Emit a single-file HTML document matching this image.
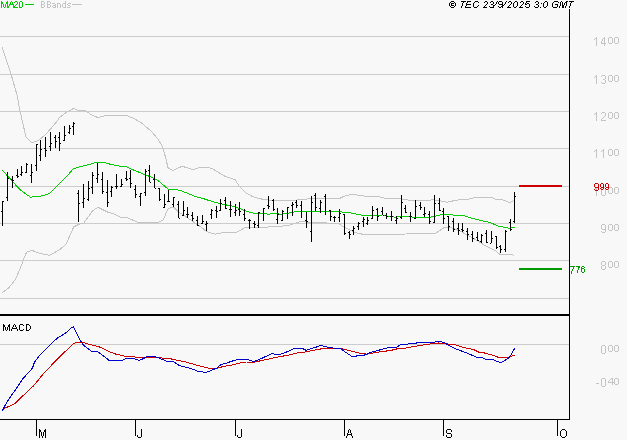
<!DOCTYPE html>
<html><head><meta charset="utf-8"><style>
html,body{margin:0;padding:0;background:#f8f8f8;}
body{width:627px;height:440px;overflow:hidden;}
svg{display:block;will-change:transform;text-rendering:geometricPrecision;}
text{font-family:"Liberation Sans",sans-serif;}
.pb{font-size:13px;fill:#c4c4c4;}
.ps{font-size:10px;fill:#c4c4c4;}
.mo{font-size:13px;fill:#000;}
</style></head><body>
<svg width="627" height="440" viewBox="0 0 627 440">
<rect width="627" height="440" fill="#f8f8f8"/>
<g shape-rendering="crispEdges">
<path d="M0,36.5H569M0,74.5H569M0,111.5H569M0,148.5H569M0,186.5H569M0,223.5H569M0,260.5H569M0,298.5H569M0,344.5H569" stroke="#cccccc" stroke-width="1" fill="none"/>
<polyline points="2.0,47.0 11.0,74.0 17.0,95.0 20.0,111.0 26.0,137.0 32.0,143.0 39.0,140.0 45.0,135.0 51.0,128.5 56.6,121.7 60.0,117.0 67.0,112.0 73.6,108.4 78.0,110.3 84.0,110.0 90.7,114.3 96.4,117.0 100.0,117.0 105.5,115.5 126.0,115.3 134.0,118.5 142.0,123.3 151.0,131.0 158.0,139.0 162.5,147.0 165.6,157.5 168.0,167.8 173.0,170.4 182.0,166.3 188.0,168.0 193.0,169.5 200.6,167.2 208.0,167.5 213.0,169.0 221.0,174.0 226.0,176.8 235.0,179.6 239.0,185.7 246.5,193.4 252.8,196.6 259.0,198.5 265.5,199.8 272.0,200.4 278.0,201.0 284.6,200.7 291.0,200.2 303.8,199.8 310.0,198.4 328.0,198.8 339.0,198.8 344.0,196.2 353.0,194.2 361.0,195.8 371.0,196.5 380.0,197.0 385.0,198.2 392.7,199.0 399.0,198.8 410.5,200.3 423.0,201.0 433.5,199.7 441.0,201.0 447.5,202.2 452.6,201.0 460.6,199.5 469.5,199.0 475.6,197.3 491.8,197.3 495.2,199.0 503.0,200.0 509.7,202.5 514.0,200.6" fill="none" stroke="#c4c4c4" stroke-width="1"/>
<polyline points="2.0,293.0 8.5,288.0 15.4,279.6 20.5,267.7 24.0,258.3 26.5,252.3 31.6,250.3 39.2,253.2 49.5,255.4 59.7,249.7 65.7,244.6 71.7,231.8 73.6,227.0 79.0,224.3 83.8,223.0 92.7,210.7 98.0,207.2 109.0,212.7 113.0,213.4 120.0,217.0 126.8,217.5 139.0,222.9 156.8,222.9 163.0,220.3 168.0,208.8 173.4,207.0 178.5,212.0 184.8,215.8 193.8,222.2 201.4,227.3 206.4,231.6 215.3,234.1 225.5,232.2 235.7,232.9 244.6,227.8 263.8,227.8 272.7,226.2 276.4,227.0 289.0,225.2 302.0,221.1 310.8,222.7 318.5,222.4 331.0,223.3 339.0,224.0 344.0,227.0 352.8,231.6 359.0,233.5 365.5,234.8 370.6,234.8 384.6,234.4 406.3,234.0 411.4,233.2 431.7,233.4 435.0,234.0 439.3,230.8 443.8,227.7 448.3,227.0 453.4,228.3 461.0,231.5 467.4,235.2 476.3,240.0 484.0,245.0 489.0,247.7 495.8,251.0 500.0,254.5 511.0,254.4 514.5,255.4" fill="none" stroke="#c4c4c4" stroke-width="1"/>
<polyline points="2.0,170.0 6.4,174.7 11.5,179.8 16.0,185.5 20.4,190.0 25.5,193.8 30.6,197.2 38.3,196.4 43.4,195.7 49.7,193.2 56.0,186.8 63.8,179.1 68.9,174.0 73.3,168.7 77.8,167.4 81.4,166.5 89.0,164.6 95.4,162.4 103.7,162.4 108.2,163.7 114.5,165.2 119.6,166.2 126.0,166.7 131.1,169.0 137.5,171.6 145.2,174.8 150.3,176.7 157.7,180.2 162.8,184.7 168.5,189.4 175.5,189.4 181.9,191.0 188.3,193.6 195.9,196.8 203.6,198.7 211.2,201.2 218.9,203.2 226.5,205.0 231.4,205.8 237.8,207.8 244.0,210.3 251.8,212.9 258.2,213.5 264.5,213.9 269.6,214.1 274.7,213.2 279.8,214.1 285.0,213.9 291.3,212.6 296.4,211.3 312.8,211.5 325.5,211.5 339.5,211.7 343.4,212.2 351.0,213.0 356.1,214.0 362.5,215.3 382.7,215.0 387.8,216.3 395.4,217.2 401.8,216.3 406.9,216.3 413.3,217.2 429.8,217.2 436.2,216.0 442.6,214.3 447.7,214.3 455.0,215.3 463.2,215.2 469.1,217.6 478.7,220.0 489.5,222.3 497.8,225.9 503.8,227.1 509.8,228.3 514.6,227.1" fill="none" stroke="#00cc00" stroke-width="1"/>
<path d="M2.5,201V226M1,211.5h1M3,201.5h1M7.5,172V201M6,197.5h1M8,178.5h1M12.5,176V188M11,179.5h1M13,180.5h1M17.5,169V178M16,175.5h1M18,176.5h1M21.5,166V176M20,174.5h1M22,172.5h1M26.5,163V173M25,172.5h1M27,164.5h1M31.5,164V183M30,175.5h1M32,172.5h1M36.5,144V171M35,165.5h1M37,144.5h1M40.5,140V161M39,155.5h1M41,149.5h1M45.5,137V157M44,148.5h1M46,150.5h1M50.5,132V151M49,146.5h1M51,143.5h1M55.5,135V148M54,137.5h1M56,141.5h1M59.5,132V151M58,137.5h1M60,143.5h1M64.5,126V141M63,140.5h1M65,135.5h1M69.5,125V134M68,132.5h1M70,128.5h1M73.5,122V135M72,126.5h1M74,123.5h1M78.5,190V222M77,193.5h1M79,203.5h1M83.5,184V208M82,202.5h1M84,198.5h1M88.5,181V201M87,199.5h1M89,188.5h1M92.5,172V194M91,187.5h1M93,175.5h1M97.5,163V183M96,178.5h1M98,174.5h1M102.5,172V194M101,179.5h1M103,191.5h1M107.5,180V207M106,192.5h1M108,202.5h1M111.5,186V197M110,191.5h1M112,187.5h1M116.5,174V189M115,186.5h1M117,186.5h1M121.5,179V187M120,186.5h1M122,184.5h1M126.5,171V181M125,178.5h1M127,179.5h1M130.5,170V188M129,178.5h1M131,183.5h1M135.5,185V198M134,189.5h1M136,194.5h1M140.5,193V206M139,196.5h1M141,193.5h1M145.5,169V196M144,192.5h1M146,171.5h1M149.5,165V182M148,170.5h1M150,182.5h1M154.5,174V188M153,179.5h1M155,188.5h1M159.5,188V201M158,188.5h1M160,199.5h1M164.5,194V208M163,207.5h1M165,204.5h1M168.5,190V202M167,201.5h1M169,201.5h1M173.5,197V207M172,204.5h1M174,197.5h1M178.5,201V218M177,204.5h1M179,218.5h1M183.5,201V216M182,215.5h1M184,210.5h1M187.5,207V218M186,214.5h1M188,214.5h1M192.5,212V221M191,215.5h1M193,218.5h1M197.5,216V226M196,220.5h1M198,225.5h1M202.5,215V224M201,223.5h1M203,221.5h1M206.5,221V231M205,224.5h1M207,223.5h1M211.5,209V219M210,214.5h1M212,210.5h1M216.5,206V218M215,210.5h1M217,211.5h1M220.5,199V211M219,210.5h1M221,203.5h1M225.5,197V209M224,200.5h1M226,208.5h1M230.5,201V217M229,209.5h1M231,209.5h1M235.5,204V216M234,212.5h1M236,210.5h1M239.5,202V216M238,209.5h1M240,211.5h1M244.5,209V221M243,214.5h1M245,218.5h1M249.5,219V229M248,220.5h1M250,220.5h1M254.5,221V228M253,223.5h1M255,224.5h1M258.5,212V228M257,225.5h1M259,212.5h1M263.5,208V221M264,208.5h1M268.5,196V209M267,205.5h1M269,206.5h1M273.5,199V211M272,200.5h1M274,209.5h1M277.5,208V224M276,219.5h1M278,214.5h1M282.5,210V221M281,220.5h1M283,211.5h1M287.5,207V219M288,207.5h1M292.5,202V216M291,205.5h1M293,204.5h1M296.5,200V208M295,202.5h1M297,205.5h1M301.5,201V218M300,205.5h1M306.5,212V228M305,220.5h1M307,221.5h1M311.5,196V242M310,231.5h1M312,202.5h1M315.5,193V211M314,195.5h1M316,207.5h1M320.5,200V213M319,208.5h1M321,202.5h1M325.5,194V215M324,196.5h1M330.5,210V221M329,210.5h1M331,216.5h1M334.5,216V222M333,217.5h1M335,217.5h1M339.5,209V222M338,217.5h1M340,213.5h1M344.5,214V235M343,214.5h1M345,233.5h1M349.5,231V239M348,232.5h1M350,234.5h1M353.5,226V235M352,230.5h1M354,228.5h1M358.5,222V230M357,226.5h1M359,223.5h1M363.5,217V227M362,221.5h1M364,219.5h1M367.5,217V225M366,223.5h1M368,220.5h1M372.5,206V219M371,218.5h1M373,210.5h1M377.5,208V221M376,209.5h1M378,216.5h1M382.5,207V215M381,211.5h1M383,215.5h1M386.5,213V219M385,215.5h1M387,216.5h1M391.5,211V221M390,216.5h1M392,216.5h1M396.5,216V224M395,220.5h1M397,218.5h1M401.5,195V219M400,217.5h1M402,202.5h1M405.5,205V213M404,208.5h1M406,212.5h1M410.5,212V222M409,216.5h1M411,216.5h1M415.5,200V219M414,218.5h1M416,206.5h1M420.5,202V210M419,205.5h1M421,207.5h1M424.5,207V217M423,214.5h1M425,213.5h1M429.5,211V224M428,214.5h1M430,221.5h1M434.5,195V223M433,222.5h1M435,203.5h1M439.5,198V211M438,203.5h1M440,210.5h1M443.5,208V224M442,211.5h1M444,218.5h1M448.5,216V231M447,216.5h1M449,226.5h1M453.5,218V232M452,221.5h1M454,229.5h1M458.5,223V235M457,228.5h1M459,230.5h1M462.5,223V232M461,229.5h1M463,230.5h1M467.5,228V240M466,231.5h1M468,234.5h1M472.5,231V242M471,234.5h1M473,238.5h1M477.5,232V241M476,237.5h1M478,240.5h1M481.5,234V243M480,241.5h1M482,235.5h1M486.5,230V243M485,233.5h1M487,242.5h1M491.5,231V243M490,243.5h1M492,238.5h1M496.5,236V249M495,236.5h1M497,247.5h1M500.5,245V253M499,246.5h1M501,249.5h1M505.5,230V252M504,249.5h1M506,231.5h1M510.5,219V231M509,222.5h1M511,229.5h1M514.5,192V223M513,221.5h1M515,196.5h1" stroke="#000" stroke-width="1" fill="none"/>
<polyline points="2.2,409.4 6.2,407.5 11.2,405.6 15.6,403.1 22.5,396.2 28.8,390.0 33.8,385.6 38.8,379.4 43.8,373.1 50.0,366.9 52.7,363.8 57.8,358.6 63.0,353.5 67.5,349.5 73.2,343.6 77.7,342.4 83.4,342.4 89.0,344.4 94.8,345.6 98.8,346.7 102.7,348.4 110.3,352.2 116.7,354.4 124.3,356.0 133.3,356.9 146.0,357.6 158.8,357.3 162.6,358.2 171.5,359.0 176.4,360.0 186.6,362.2 195.5,364.8 203.2,366.9 210.8,368.6 215.9,368.6 223.6,366.4 231.2,365.2 238.9,363.2 246.5,362.0 255.2,362.0 261.6,360.5 270.5,358.6 278.2,356.9 287.1,355.4 296.0,353.2 306.2,351.8 313.9,350.3 321.5,348.8 323.8,348.0 340.4,348.0 345.5,349.7 351.9,351.3 360.8,353.5 367.2,354.1 373.6,352.9 381.2,351.6 390.2,350.6 396.5,349.0 402.7,348.5 410.3,347.2 419.2,345.6 428.2,344.3 438.4,343.0 446.0,343.8 455.0,344.7 462.6,347.2 468.8,348.6 473.6,349.6 478.4,352.0 484.1,352.9 489.9,354.4 494.7,355.8 498.5,357.4 507.1,357.4 510.9,356.5 514.6,355.3" fill="none" stroke="#cc0000" stroke-width="1"/>
<polyline points="2.2,411.2 5.6,404.4 11.2,395.6 16.2,388.8 21.9,380.0 26.2,375.0 32.5,368.1 34.5,362.0 39.7,355.2 45.9,349.0 52.2,342.7 57.3,338.2 63.0,334.8 67.5,331.4 71.5,327.7 73.4,326.6 76.6,333.0 80.0,339.9 82.8,344.4 86.8,347.8 91.4,351.2 97.0,351.2 102.7,355.4 109.0,360.3 122.4,360.3 125.6,358.6 133.3,358.6 139.0,360.3 143.5,358.6 147.3,356.4 155.0,356.4 160.0,358.6 166.4,361.1 173.2,361.3 178.9,365.4 186.6,367.3 193.0,369.2 198.0,371.4 204.4,372.2 207.0,372.2 212.1,369.9 217.2,368.0 221.0,364.4 226.1,363.2 232.5,361.0 237.6,359.4 246.5,359.4 253.9,361.5 260.3,359.0 266.7,356.0 272.4,353.5 275.6,354.4 279.4,354.4 284.5,352.9 289.6,350.6 294.7,348.4 302.4,348.4 306.2,350.3 311.3,348.4 316.4,347.1 320.3,345.2 323.8,346.2 327.7,347.1 332.8,348.0 340.4,348.4 345.5,352.2 351.3,356.0 355.7,356.4 358.3,355.2 364.0,355.2 371.0,352.2 377.4,350.6 383.8,348.8 390.2,347.4 396.5,347.1 401.4,344.3 412.9,343.8 419.2,342.4 432.0,342.8 438.4,341.2 440.9,341.5 444.7,342.8 448.6,345.3 456.2,349.1 463.9,351.9 469.8,354.2 476.5,357.2 482.2,357.4 486.0,359.6 492.8,359.6 497.5,361.5 500.4,362.5 504.2,361.0 509.0,357.7 511.9,353.4 514.6,348.4" fill="none" stroke="#0000c8" stroke-width="1"/>
<rect x="519" y="185" width="43" height="2" fill="#cc0000"/>
<rect x="519" y="268" width="43" height="2" fill="#009900"/>
<rect x="569" y="9" width="1" height="411" fill="#000"/>
<rect x="0" y="314" width="570" height="2" fill="#000"/>
<rect x="0" y="419" width="570" height="1" fill="#000"/>
<path d="M36.5,419V436M135.5,419V436M235.5,419V436M344.5,419V436M443.5,419V436M557.5,419V436" stroke="#000" stroke-width="1"/>
<rect x="25" y="4" width="9" height="1" fill="#00cc00"/>
<rect x="72" y="4" width="10" height="1" fill="#c4c4c4"/>
</g>
<path fill="#00cc00" shape-rendering="crispEdges" d="M1,1h1v1h-1zM7,1h1v1h-1zM1,2h1v1h-1zM2,2h1v1h-1zM6,2h1v1h-1zM7,2h1v1h-1zM1,3h1v1h-1zM2,3h1v1h-1zM6,3h1v1h-1zM7,3h1v1h-1zM1,4h1v1h-1zM3,4h1v1h-1zM5,4h1v1h-1zM7,4h1v1h-1zM1,5h1v1h-1zM3,5h1v1h-1zM5,5h1v1h-1zM7,5h1v1h-1zM1,6h1v1h-1zM3,6h1v1h-1zM5,6h1v1h-1zM7,6h1v1h-1zM1,7h1v1h-1zM4,7h1v1h-1zM7,7h1v1h-1zM11,1h1v1h-1zM10,2h1v1h-1zM12,2h1v1h-1zM10,3h1v1h-1zM12,3h1v1h-1zM9,4h1v1h-1zM10,4h1v1h-1zM11,4h1v1h-1zM12,4h1v1h-1zM13,4h1v1h-1zM9,5h1v1h-1zM13,5h1v1h-1zM8,6h1v1h-1zM13,6h1v1h-1zM8,7h1v1h-1zM13,7h1v1h-1zM15,1h1v1h-1zM16,1h1v1h-1zM14,2h1v1h-1zM17,2h1v1h-1zM17,3h1v1h-1zM16,4h1v1h-1zM15,5h1v1h-1zM14,6h1v1h-1zM14,7h1v1h-1zM15,7h1v1h-1zM16,7h1v1h-1zM17,7h1v1h-1zM20,1h1v1h-1zM21,1h1v1h-1zM19,2h1v1h-1zM22,2h1v1h-1zM19,3h1v1h-1zM22,3h1v1h-1zM19,4h1v1h-1zM22,4h1v1h-1zM19,5h1v1h-1zM22,5h1v1h-1zM19,6h1v1h-1zM22,6h1v1h-1zM19,7h1v1h-1zM20,7h1v1h-1zM21,7h1v1h-1z"/>
<path fill="#c4c4c4" shape-rendering="crispEdges" d="M41,1h1v1h-1zM42,1h1v1h-1zM43,1h1v1h-1zM41,2h1v1h-1zM44,2h1v1h-1zM41,3h1v1h-1zM44,3h1v1h-1zM41,4h1v1h-1zM42,4h1v1h-1zM43,4h1v1h-1zM41,5h1v1h-1zM44,5h1v1h-1zM41,6h1v1h-1zM44,6h1v1h-1zM41,7h1v1h-1zM42,7h1v1h-1zM43,7h1v1h-1zM47,1h1v1h-1zM48,1h1v1h-1zM49,1h1v1h-1zM47,2h1v1h-1zM50,2h1v1h-1zM47,3h1v1h-1zM50,3h1v1h-1zM47,4h1v1h-1zM48,4h1v1h-1zM49,4h1v1h-1zM47,5h1v1h-1zM50,5h1v1h-1zM47,6h1v1h-1zM50,6h1v1h-1zM47,7h1v1h-1zM48,7h1v1h-1zM49,7h1v1h-1zM52,3h1v1h-1zM53,3h1v1h-1zM54,3h1v1h-1zM55,4h1v1h-1zM53,5h1v1h-1zM54,5h1v1h-1zM55,5h1v1h-1zM52,6h1v1h-1zM55,6h1v1h-1zM53,7h1v1h-1zM54,7h1v1h-1zM55,7h1v1h-1zM57,3h1v1h-1zM58,3h1v1h-1zM59,3h1v1h-1zM57,4h1v1h-1zM60,4h1v1h-1zM57,5h1v1h-1zM60,5h1v1h-1zM57,6h1v1h-1zM60,6h1v1h-1zM57,7h1v1h-1zM60,7h1v1h-1zM65,1h1v1h-1zM65,2h1v1h-1zM63,3h1v1h-1zM64,3h1v1h-1zM65,3h1v1h-1zM62,4h1v1h-1zM65,4h1v1h-1zM62,5h1v1h-1zM65,5h1v1h-1zM62,6h1v1h-1zM65,6h1v1h-1zM63,7h1v1h-1zM64,7h1v1h-1zM65,7h1v1h-1zM68,3h1v1h-1zM69,3h1v1h-1zM70,3h1v1h-1zM67,4h1v1h-1zM68,5h1v1h-1zM69,5h1v1h-1zM70,6h1v1h-1zM67,7h1v1h-1zM68,7h1v1h-1zM69,7h1v1h-1z"/>
<path fill="#000" shape-rendering="crispEdges" d="M451,1h1v1h-1zM452,1h1v1h-1zM453,1h1v1h-1zM450,2h1v1h-1zM454,2h1v1h-1zM449,3h1v1h-1zM451,3h1v1h-1zM452,3h1v1h-1zM453,3h1v1h-1zM455,3h1v1h-1zM449,4h1v1h-1zM451,4h1v1h-1zM455,4h1v1h-1zM449,5h1v1h-1zM451,5h1v1h-1zM452,5h1v1h-1zM453,5h1v1h-1zM455,5h1v1h-1zM450,6h1v1h-1zM454,6h1v1h-1zM451,7h1v1h-1zM452,7h1v1h-1zM453,7h1v1h-1zM461,1h1v1h-1zM462,1h1v1h-1zM463,1h1v1h-1zM464,1h1v1h-1zM465,1h1v1h-1zM463,2h1v1h-1zM462,3h1v1h-1zM462,4h1v1h-1zM462,5h1v1h-1zM461,6h1v1h-1zM461,7h1v1h-1zM467,1h1v1h-1zM468,1h1v1h-1zM469,1h1v1h-1zM470,1h1v1h-1zM467,2h1v1h-1zM466,3h1v1h-1zM466,4h1v1h-1zM467,4h1v1h-1zM468,4h1v1h-1zM469,4h1v1h-1zM470,4h1v1h-1zM466,5h1v1h-1zM465,6h1v1h-1zM465,7h1v1h-1zM466,7h1v1h-1zM467,7h1v1h-1zM468,7h1v1h-1zM469,7h1v1h-1zM470,7h1v1h-1zM475,1h1v1h-1zM476,1h1v1h-1zM477,1h1v1h-1zM474,2h1v1h-1zM478,2h1v1h-1zM473,3h1v1h-1zM473,4h1v1h-1zM473,5h1v1h-1zM478,5h1v1h-1zM473,6h1v1h-1zM477,6h1v1h-1zM474,7h1v1h-1zM475,7h1v1h-1zM476,7h1v1h-1zM485,1h1v1h-1zM486,1h1v1h-1zM484,2h1v1h-1zM487,2h1v1h-1zM487,3h1v1h-1zM486,4h1v1h-1zM485,5h1v1h-1zM484,6h1v1h-1zM483,7h1v1h-1zM484,7h1v1h-1zM485,7h1v1h-1zM486,7h1v1h-1zM491,1h1v1h-1zM492,1h1v1h-1zM490,2h1v1h-1zM493,2h1v1h-1zM493,3h1v1h-1zM491,4h1v1h-1zM492,4h1v1h-1zM493,5h1v1h-1zM489,6h1v1h-1zM493,6h1v1h-1zM490,7h1v1h-1zM491,7h1v1h-1zM492,7h1v1h-1zM497,1h1v1h-1zM496,2h1v1h-1zM496,3h1v1h-1zM495,4h1v1h-1zM494,5h1v1h-1zM493,6h1v1h-1zM493,7h1v1h-1zM499,1h1v1h-1zM500,1h1v1h-1zM501,1h1v1h-1zM498,2h1v1h-1zM502,2h1v1h-1zM498,3h1v1h-1zM502,3h1v1h-1zM499,4h1v1h-1zM500,4h1v1h-1zM501,4h1v1h-1zM502,4h1v1h-1zM502,5h1v1h-1zM498,6h1v1h-1zM501,6h1v1h-1zM499,7h1v1h-1zM500,7h1v1h-1zM506,1h1v1h-1zM505,2h1v1h-1zM505,3h1v1h-1zM504,4h1v1h-1zM503,5h1v1h-1zM502,6h1v1h-1zM502,7h1v1h-1zM509,1h1v1h-1zM510,1h1v1h-1zM508,2h1v1h-1zM511,2h1v1h-1zM511,3h1v1h-1zM510,4h1v1h-1zM509,5h1v1h-1zM508,6h1v1h-1zM507,7h1v1h-1zM508,7h1v1h-1zM509,7h1v1h-1zM510,7h1v1h-1zM515,1h1v1h-1zM516,1h1v1h-1zM514,2h1v1h-1zM517,2h1v1h-1zM513,3h1v1h-1zM517,3h1v1h-1zM513,4h1v1h-1zM517,4h1v1h-1zM513,5h1v1h-1zM517,5h1v1h-1zM513,6h1v1h-1zM516,6h1v1h-1zM514,7h1v1h-1zM515,7h1v1h-1zM521,1h1v1h-1zM522,1h1v1h-1zM520,2h1v1h-1zM523,2h1v1h-1zM523,3h1v1h-1zM522,4h1v1h-1zM521,5h1v1h-1zM520,6h1v1h-1zM519,7h1v1h-1zM520,7h1v1h-1zM521,7h1v1h-1zM522,7h1v1h-1zM526,1h1v1h-1zM527,1h1v1h-1zM528,1h1v1h-1zM529,1h1v1h-1zM526,2h1v1h-1zM525,3h1v1h-1zM527,3h1v1h-1zM528,3h1v1h-1zM525,4h1v1h-1zM526,4h1v1h-1zM529,4h1v1h-1zM529,5h1v1h-1zM525,6h1v1h-1zM529,6h1v1h-1zM526,7h1v1h-1zM527,7h1v1h-1zM528,7h1v1h-1zM536,1h1v1h-1zM537,1h1v1h-1zM535,2h1v1h-1zM538,2h1v1h-1zM538,3h1v1h-1zM536,4h1v1h-1zM537,4h1v1h-1zM538,5h1v1h-1zM534,6h1v1h-1zM538,6h1v1h-1zM535,7h1v1h-1zM536,7h1v1h-1zM537,7h1v1h-1zM541,3h1v1h-1zM540,7h1v1h-1zM545,1h1v1h-1zM546,1h1v1h-1zM544,2h1v1h-1zM547,2h1v1h-1zM543,3h1v1h-1zM547,3h1v1h-1zM543,4h1v1h-1zM547,4h1v1h-1zM543,5h1v1h-1zM547,5h1v1h-1zM543,6h1v1h-1zM546,6h1v1h-1zM544,7h1v1h-1zM545,7h1v1h-1zM554,1h1v1h-1zM555,1h1v1h-1zM556,1h1v1h-1zM557,1h1v1h-1zM553,2h1v1h-1zM558,2h1v1h-1zM552,3h1v1h-1zM552,4h1v1h-1zM555,4h1v1h-1zM556,4h1v1h-1zM557,4h1v1h-1zM552,5h1v1h-1zM557,5h1v1h-1zM552,6h1v1h-1zM557,6h1v1h-1zM553,7h1v1h-1zM554,7h1v1h-1zM555,7h1v1h-1zM556,7h1v1h-1zM561,1h1v1h-1zM566,1h1v1h-1zM567,1h1v1h-1zM560,2h1v1h-1zM562,2h1v1h-1zM565,2h1v1h-1zM566,2h1v1h-1zM560,3h1v1h-1zM562,3h1v1h-1zM564,3h1v1h-1zM566,3h1v1h-1zM560,4h1v1h-1zM562,4h1v1h-1zM564,4h1v1h-1zM566,4h1v1h-1zM560,5h1v1h-1zM562,5h1v1h-1zM563,5h1v1h-1zM566,5h1v1h-1zM559,6h1v1h-1zM562,6h1v1h-1zM563,6h1v1h-1zM565,6h1v1h-1zM559,7h1v1h-1zM562,7h1v1h-1zM563,7h1v1h-1zM565,7h1v1h-1zM569,1h1v1h-1zM570,1h1v1h-1zM571,1h1v1h-1zM572,1h1v1h-1zM573,1h1v1h-1zM571,2h1v1h-1zM570,3h1v1h-1zM570,4h1v1h-1zM570,5h1v1h-1zM569,6h1v1h-1zM569,7h1v1h-1z"/>
<path fill="#c4c4c4" shape-rendering="crispEdges" d="M596,37h1v1h-1zM595,38h2v1h-2zM594,39h1v1h-1zM596,39h1v1h-1zM596,40h1v1h-1zM596,41h1v1h-1zM596,42h1v1h-1zM596,43h1v1h-1zM596,44h1v1h-1zM596,45h1v1h-1zM604,37h1v1h-1zM603,38h2v1h-2zM602,39h1v1h-1zM604,39h1v1h-1zM602,40h1v1h-1zM604,40h1v1h-1zM601,41h1v1h-1zM604,41h1v1h-1zM601,42h1v1h-1zM604,42h1v1h-1zM601,43h5v1h-5zM604,44h1v1h-1zM604,45h1v1h-1zM609,37h3v1h-3zM608,38h1v1h-1zM612,38h1v1h-1zM608,39h1v1h-1zM612,39h1v1h-1zM608,40h1v1h-1zM612,40h1v1h-1zM608,41h1v1h-1zM612,41h1v1h-1zM608,42h1v1h-1zM612,42h1v1h-1zM609,43h3v1h-3zM615,37h3v1h-3zM614,38h1v1h-1zM618,38h1v1h-1zM614,39h1v1h-1zM618,39h1v1h-1zM614,40h1v1h-1zM618,40h1v1h-1zM614,41h1v1h-1zM618,41h1v1h-1zM614,42h1v1h-1zM618,42h1v1h-1zM615,43h3v1h-3zM596,75h1v1h-1zM595,76h2v1h-2zM594,77h1v1h-1zM596,77h1v1h-1zM596,78h1v1h-1zM596,79h1v1h-1zM596,80h1v1h-1zM596,81h1v1h-1zM596,82h1v1h-1zM596,83h1v1h-1zM602,75h3v1h-3zM601,76h1v1h-1zM605,76h1v1h-1zM605,77h1v1h-1zM605,78h1v1h-1zM603,79h2v1h-2zM605,80h1v1h-1zM605,81h1v1h-1zM601,82h1v1h-1zM605,82h1v1h-1zM602,83h3v1h-3zM609,75h3v1h-3zM608,76h1v1h-1zM612,76h1v1h-1zM608,77h1v1h-1zM612,77h1v1h-1zM608,78h1v1h-1zM612,78h1v1h-1zM608,79h1v1h-1zM612,79h1v1h-1zM608,80h1v1h-1zM612,80h1v1h-1zM609,81h3v1h-3zM615,75h3v1h-3zM614,76h1v1h-1zM618,76h1v1h-1zM614,77h1v1h-1zM618,77h1v1h-1zM614,78h1v1h-1zM618,78h1v1h-1zM614,79h1v1h-1zM618,79h1v1h-1zM614,80h1v1h-1zM618,80h1v1h-1zM615,81h3v1h-3zM596,112h1v1h-1zM595,113h2v1h-2zM594,114h1v1h-1zM596,114h1v1h-1zM596,115h1v1h-1zM596,116h1v1h-1zM596,117h1v1h-1zM596,118h1v1h-1zM596,119h1v1h-1zM596,120h1v1h-1zM602,112h3v1h-3zM601,113h1v1h-1zM605,113h1v1h-1zM605,114h1v1h-1zM605,115h1v1h-1zM604,116h1v1h-1zM603,117h1v1h-1zM602,118h1v1h-1zM601,119h1v1h-1zM601,120h5v1h-5zM609,112h3v1h-3zM608,113h1v1h-1zM612,113h1v1h-1zM608,114h1v1h-1zM612,114h1v1h-1zM608,115h1v1h-1zM612,115h1v1h-1zM608,116h1v1h-1zM612,116h1v1h-1zM608,117h1v1h-1zM612,117h1v1h-1zM609,118h3v1h-3zM615,112h3v1h-3zM614,113h1v1h-1zM618,113h1v1h-1zM614,114h1v1h-1zM618,114h1v1h-1zM614,115h1v1h-1zM618,115h1v1h-1zM614,116h1v1h-1zM618,116h1v1h-1zM614,117h1v1h-1zM618,117h1v1h-1zM615,118h3v1h-3zM596,149h1v1h-1zM595,150h2v1h-2zM594,151h1v1h-1zM596,151h1v1h-1zM596,152h1v1h-1zM596,153h1v1h-1zM596,154h1v1h-1zM596,155h1v1h-1zM596,156h1v1h-1zM596,157h1v1h-1zM603,149h1v1h-1zM602,150h2v1h-2zM601,151h1v1h-1zM603,151h1v1h-1zM603,152h1v1h-1zM603,153h1v1h-1zM603,154h1v1h-1zM603,155h1v1h-1zM603,156h1v1h-1zM603,157h1v1h-1zM609,149h3v1h-3zM608,150h1v1h-1zM612,150h1v1h-1zM608,151h1v1h-1zM612,151h1v1h-1zM608,152h1v1h-1zM612,152h1v1h-1zM608,153h1v1h-1zM612,153h1v1h-1zM608,154h1v1h-1zM612,154h1v1h-1zM609,155h3v1h-3zM615,149h3v1h-3zM614,150h1v1h-1zM618,150h1v1h-1zM614,151h1v1h-1zM618,151h1v1h-1zM614,152h1v1h-1zM618,152h1v1h-1zM614,153h1v1h-1zM618,153h1v1h-1zM614,154h1v1h-1zM618,154h1v1h-1zM615,155h3v1h-3zM596,187h1v1h-1zM595,188h2v1h-2zM594,189h1v1h-1zM596,189h1v1h-1zM596,190h1v1h-1zM596,191h1v1h-1zM596,192h1v1h-1zM596,193h1v1h-1zM596,194h1v1h-1zM596,195h1v1h-1zM602,187h3v1h-3zM601,188h1v1h-1zM605,188h1v1h-1zM601,189h1v1h-1zM605,189h1v1h-1zM601,190h1v1h-1zM605,190h1v1h-1zM601,191h1v1h-1zM605,191h1v1h-1zM601,192h1v1h-1zM605,192h1v1h-1zM601,193h1v1h-1zM605,193h1v1h-1zM601,194h1v1h-1zM605,194h1v1h-1zM602,195h3v1h-3zM609,187h3v1h-3zM608,188h1v1h-1zM612,188h1v1h-1zM608,189h1v1h-1zM612,189h1v1h-1zM608,190h1v1h-1zM612,190h1v1h-1zM608,191h1v1h-1zM612,191h1v1h-1zM608,192h1v1h-1zM612,192h1v1h-1zM609,193h3v1h-3zM615,187h3v1h-3zM614,188h1v1h-1zM618,188h1v1h-1zM614,189h1v1h-1zM618,189h1v1h-1zM614,190h1v1h-1zM618,190h1v1h-1zM614,191h1v1h-1zM618,191h1v1h-1zM614,192h1v1h-1zM618,192h1v1h-1zM615,193h3v1h-3zM602,224h3v1h-3zM601,225h1v1h-1zM605,225h1v1h-1zM601,226h1v1h-1zM605,226h1v1h-1zM601,227h1v1h-1zM605,227h1v1h-1zM601,228h1v1h-1zM605,228h1v1h-1zM602,229h4v1h-4zM605,230h1v1h-1zM601,231h1v1h-1zM605,231h1v1h-1zM602,232h3v1h-3zM609,224h3v1h-3zM608,225h1v1h-1zM612,225h1v1h-1zM608,226h1v1h-1zM612,226h1v1h-1zM608,227h1v1h-1zM612,227h1v1h-1zM608,228h1v1h-1zM612,228h1v1h-1zM608,229h1v1h-1zM612,229h1v1h-1zM609,230h3v1h-3zM615,224h3v1h-3zM614,225h1v1h-1zM618,225h1v1h-1zM614,226h1v1h-1zM618,226h1v1h-1zM614,227h1v1h-1zM618,227h1v1h-1zM614,228h1v1h-1zM618,228h1v1h-1zM614,229h1v1h-1zM618,229h1v1h-1zM615,230h3v1h-3zM602,261h3v1h-3zM601,262h1v1h-1zM605,262h1v1h-1zM601,263h1v1h-1zM605,263h1v1h-1zM601,264h1v1h-1zM605,264h1v1h-1zM602,265h3v1h-3zM601,266h1v1h-1zM605,266h1v1h-1zM601,267h1v1h-1zM605,267h1v1h-1zM601,268h1v1h-1zM605,268h1v1h-1zM602,269h3v1h-3zM609,261h3v1h-3zM608,262h1v1h-1zM612,262h1v1h-1zM608,263h1v1h-1zM612,263h1v1h-1zM608,264h1v1h-1zM612,264h1v1h-1zM608,265h1v1h-1zM612,265h1v1h-1zM608,266h1v1h-1zM612,266h1v1h-1zM609,267h3v1h-3zM615,261h3v1h-3zM614,262h1v1h-1zM618,262h1v1h-1zM614,263h1v1h-1zM618,263h1v1h-1zM614,264h1v1h-1zM618,264h1v1h-1zM614,265h1v1h-1zM618,265h1v1h-1zM614,266h1v1h-1zM618,266h1v1h-1zM615,267h3v1h-3zM602,345h3v1h-3zM601,346h1v1h-1zM605,346h1v1h-1zM601,347h1v1h-1zM605,347h1v1h-1zM601,348h1v1h-1zM605,348h1v1h-1zM601,349h1v1h-1zM605,349h1v1h-1zM601,350h1v1h-1zM605,350h1v1h-1zM601,351h1v1h-1zM605,351h1v1h-1zM601,352h1v1h-1zM605,352h1v1h-1zM602,353h3v1h-3zM609,345h3v1h-3zM608,346h1v1h-1zM612,346h1v1h-1zM608,347h1v1h-1zM612,347h1v1h-1zM608,348h1v1h-1zM612,348h1v1h-1zM608,349h1v1h-1zM612,349h1v1h-1zM608,350h1v1h-1zM612,350h1v1h-1zM609,351h3v1h-3zM615,345h3v1h-3zM614,346h1v1h-1zM618,346h1v1h-1zM614,347h1v1h-1zM618,347h1v1h-1zM614,348h1v1h-1zM618,348h1v1h-1zM614,349h1v1h-1zM618,349h1v1h-1zM614,350h1v1h-1zM618,350h1v1h-1zM615,351h3v1h-3zM596,383h3v1h-3zM602,378h3v1h-3zM601,379h1v1h-1zM605,379h1v1h-1zM601,380h1v1h-1zM605,380h1v1h-1zM601,381h1v1h-1zM605,381h1v1h-1zM601,382h1v1h-1zM605,382h1v1h-1zM601,383h1v1h-1zM605,383h1v1h-1zM601,384h1v1h-1zM605,384h1v1h-1zM601,385h1v1h-1zM605,385h1v1h-1zM602,386h3v1h-3zM611,378h2v1h-2zM610,379h1v1h-1zM612,379h1v1h-1zM609,380h1v1h-1zM612,380h1v1h-1zM608,381h1v1h-1zM612,381h1v1h-1zM608,382h6v1h-6zM612,383h1v1h-1zM612,384h1v1h-1zM615,378h3v1h-3zM614,379h1v1h-1zM618,379h1v1h-1zM614,380h1v1h-1zM618,380h1v1h-1zM614,381h1v1h-1zM618,381h1v1h-1zM614,382h1v1h-1zM618,382h1v1h-1zM614,383h1v1h-1zM618,383h1v1h-1zM615,384h3v1h-3z"/>
<path fill="#cc0000" shape-rendering="crispEdges" d="M595,183h1v1h-1zM596,183h1v1h-1zM597,183h1v1h-1zM594,184h1v1h-1zM598,184h1v1h-1zM594,185h1v1h-1zM598,185h1v1h-1zM594,186h1v1h-1zM598,186h1v1h-1zM595,187h1v1h-1zM596,187h1v1h-1zM597,187h1v1h-1zM598,187h1v1h-1zM598,188h1v1h-1zM594,189h1v1h-1zM598,189h1v1h-1zM595,190h1v1h-1zM596,190h1v1h-1zM597,190h1v1h-1zM601,183h1v1h-1zM602,183h1v1h-1zM600,184h1v1h-1zM603,184h1v1h-1zM600,185h1v1h-1zM603,185h1v1h-1zM600,186h1v1h-1zM603,186h1v1h-1zM601,187h1v1h-1zM602,187h1v1h-1zM603,187h1v1h-1zM600,188h1v1h-1zM603,188h1v1h-1zM601,189h1v1h-1zM602,189h1v1h-1zM606,183h1v1h-1zM607,183h1v1h-1zM605,184h1v1h-1zM608,184h1v1h-1zM605,185h1v1h-1zM608,185h1v1h-1zM605,186h1v1h-1zM608,186h1v1h-1zM606,187h1v1h-1zM607,187h1v1h-1zM608,187h1v1h-1zM605,188h1v1h-1zM608,188h1v1h-1zM606,189h1v1h-1zM607,189h1v1h-1z"/>
<path fill="#009900" shape-rendering="crispEdges" d="M570,266h1v1h-1zM571,266h1v1h-1zM572,266h1v1h-1zM573,266h1v1h-1zM574,266h1v1h-1zM573,267h1v1h-1zM573,268h1v1h-1zM572,269h1v1h-1zM572,270h1v1h-1zM571,271h1v1h-1zM571,272h1v1h-1zM571,273h1v1h-1zM576,266h1v1h-1zM577,266h1v1h-1zM578,266h1v1h-1zM579,266h1v1h-1zM578,267h1v1h-1zM579,267h1v1h-1zM578,268h1v1h-1zM578,269h1v1h-1zM577,270h1v1h-1zM577,271h1v1h-1zM577,272h1v1h-1zM582,266h1v1h-1zM583,266h1v1h-1zM581,267h1v1h-1zM584,267h1v1h-1zM581,268h1v1h-1zM582,268h1v1h-1zM583,268h1v1h-1zM581,269h1v1h-1zM584,269h1v1h-1zM581,270h1v1h-1zM584,270h1v1h-1zM581,271h1v1h-1zM584,271h1v1h-1zM582,272h1v1h-1zM583,272h1v1h-1z"/>
<path fill="#000" shape-rendering="crispEdges" d="M39,429h1v1h-1zM45,429h1v1h-1zM39,430h2v1h-2zM44,430h2v1h-2zM39,431h2v1h-2zM44,431h2v1h-2zM39,432h1v1h-1zM41,432h1v1h-1zM43,432h1v1h-1zM45,432h1v1h-1zM39,433h1v1h-1zM41,433h1v1h-1zM43,433h1v1h-1zM45,433h1v1h-1zM39,434h1v1h-1zM41,434h1v1h-1zM43,434h1v1h-1zM45,434h1v1h-1zM39,435h1v1h-1zM41,435h1v1h-1zM43,435h1v1h-1zM45,435h1v1h-1zM39,436h1v1h-1zM42,436h1v1h-1zM45,436h1v1h-1zM39,437h1v1h-1zM42,437h1v1h-1zM45,437h1v1h-1zM141,429h1v1h-1zM141,430h1v1h-1zM141,431h1v1h-1zM141,432h1v1h-1zM141,433h1v1h-1zM141,434h1v1h-1zM137,435h1v1h-1zM141,435h1v1h-1zM137,436h1v1h-1zM141,436h1v1h-1zM138,437h3v1h-3zM241,429h1v1h-1zM241,430h1v1h-1zM241,431h1v1h-1zM241,432h1v1h-1zM241,433h1v1h-1zM241,434h1v1h-1zM237,435h1v1h-1zM241,435h1v1h-1zM237,436h1v1h-1zM241,436h1v1h-1zM238,437h3v1h-3zM349,429h1v1h-1zM348,430h1v1h-1zM350,430h1v1h-1zM348,431h1v1h-1zM350,431h1v1h-1zM348,432h1v1h-1zM350,432h1v1h-1zM347,433h1v1h-1zM351,433h1v1h-1zM347,434h5v1h-5zM347,435h1v1h-1zM351,435h1v1h-1zM346,436h1v1h-1zM352,436h1v1h-1zM346,437h1v1h-1zM352,437h1v1h-1zM447,429h4v1h-4zM446,430h1v1h-1zM451,430h1v1h-1zM446,431h1v1h-1zM451,431h1v1h-1zM446,432h1v1h-1zM447,433h4v1h-4zM451,434h1v1h-1zM446,435h1v1h-1zM451,435h1v1h-1zM446,436h1v1h-1zM451,436h1v1h-1zM447,437h4v1h-4zM562,429h3v1h-3zM561,430h1v1h-1zM565,430h1v1h-1zM560,431h1v1h-1zM566,431h1v1h-1zM560,432h1v1h-1zM566,432h1v1h-1zM560,433h1v1h-1zM566,433h1v1h-1zM560,434h1v1h-1zM566,434h1v1h-1zM560,435h1v1h-1zM566,435h1v1h-1zM561,436h1v1h-1zM565,436h1v1h-1zM562,437h3v1h-3zM3,324h1v1h-1zM9,324h1v1h-1zM3,325h2v1h-2zM8,325h2v1h-2zM3,326h2v1h-2zM8,326h2v1h-2zM3,327h1v1h-1zM5,327h1v1h-1zM7,327h1v1h-1zM9,327h1v1h-1zM3,328h1v1h-1zM5,328h1v1h-1zM7,328h1v1h-1zM9,328h1v1h-1zM3,329h1v1h-1zM5,329h1v1h-1zM7,329h1v1h-1zM9,329h1v1h-1zM3,330h1v1h-1zM6,330h1v1h-1zM9,330h1v1h-1zM14,324h1v1h-1zM13,325h1v1h-1zM15,325h1v1h-1zM13,326h1v1h-1zM15,326h1v1h-1zM12,327h1v1h-1zM16,327h1v1h-1zM12,328h5v1h-5zM11,329h1v1h-1zM17,329h1v1h-1zM11,330h1v1h-1zM17,330h1v1h-1zM20,324h3v1h-3zM19,325h1v1h-1zM23,325h1v1h-1zM19,326h1v1h-1zM19,327h1v1h-1zM19,328h1v1h-1zM19,329h1v1h-1zM23,329h1v1h-1zM20,330h3v1h-3zM26,324h3v1h-3zM26,325h1v1h-1zM29,325h1v1h-1zM26,326h1v1h-1zM30,326h1v1h-1zM26,327h1v1h-1zM30,327h1v1h-1zM26,328h1v1h-1zM30,328h1v1h-1zM26,329h1v1h-1zM29,329h1v1h-1zM26,330h3v1h-3z"/>
</svg>
</body></html>
